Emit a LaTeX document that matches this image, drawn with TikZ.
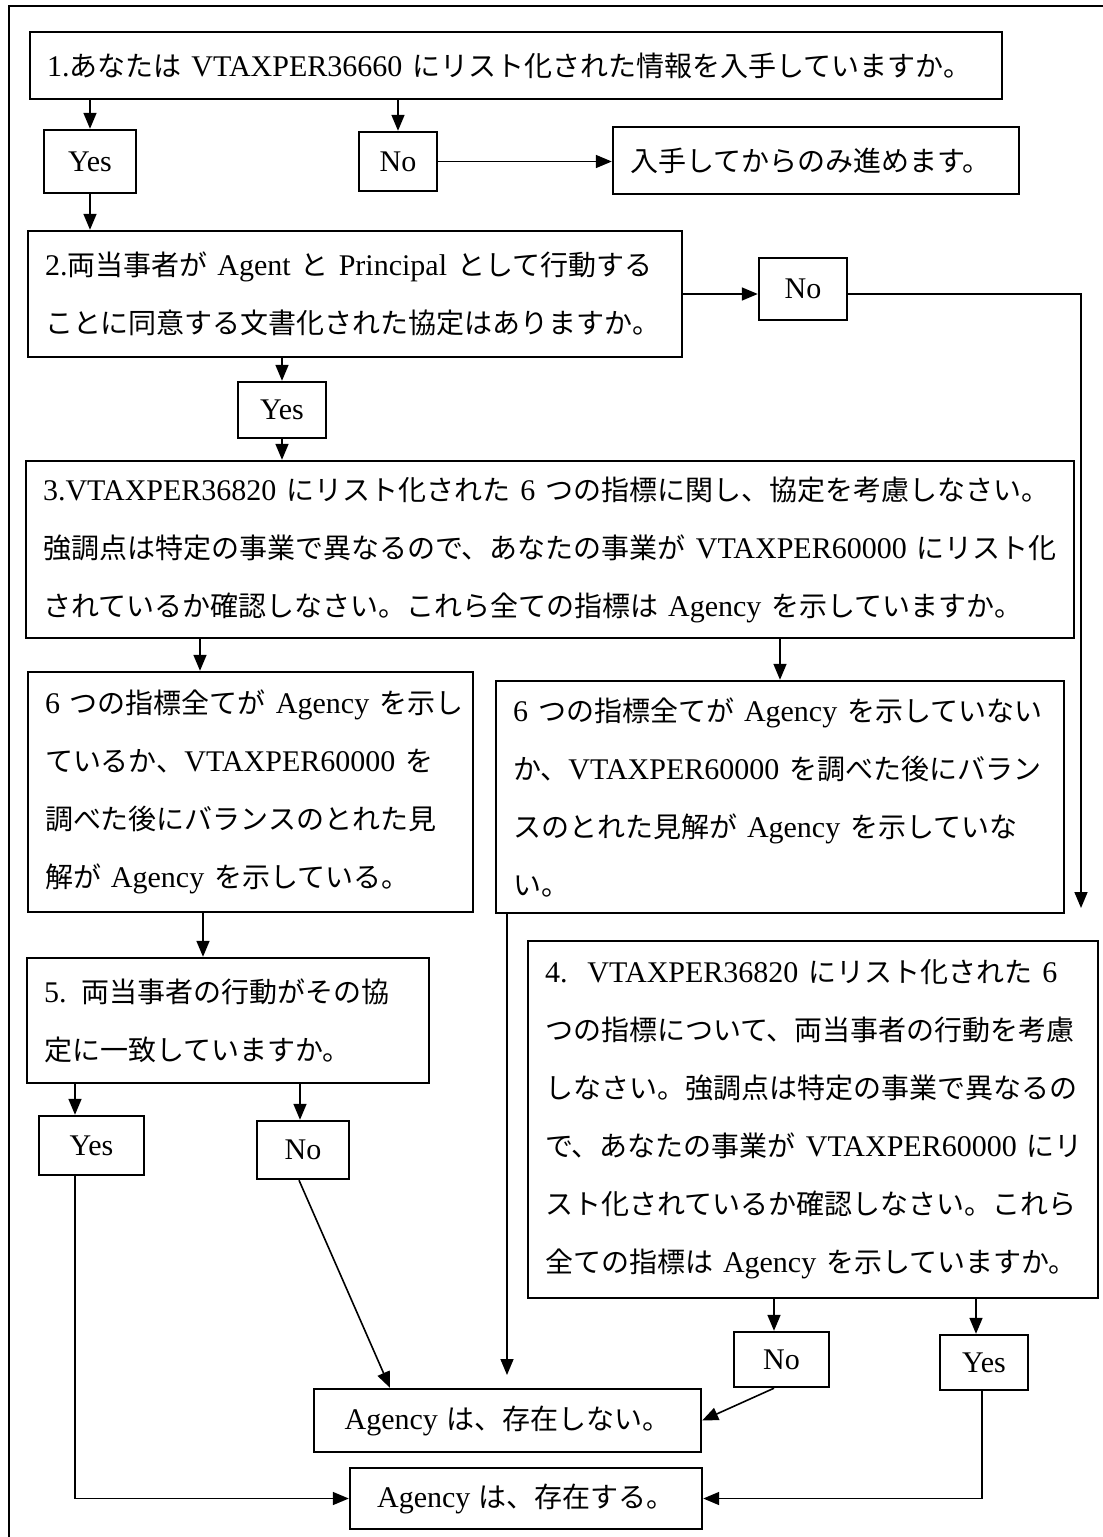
\documentclass[tikz,border=0pt]{standalone}
\usepackage{fontspec}
\setmainfont{Liberation Serif}
\newfontfamily\jpf{Noto Sans CJK JP}
\newcommand\jx[1]{{\jpf\fontsize{28}{58}\selectfont #1}}
\newcommand\bodyfnt{\fontsize{30}{58}\selectfont\spaceskip=8.5pt\relax}
\newcommand\smallfnt{\fontsize{30}{34}\selectfont\spaceskip=8.5pt\relax}
\usetikzlibrary{arrows.meta}
\tikzset{
 box/.style={draw, line width=2.4pt, inner xsep=17pt, inner ysep=0pt, font=\bodyfnt, align=left},
 ctr/.style={draw, line width=2.4pt, inner sep=0pt, font=\smallfnt, align=center},
 arr/.style={line width=1.6pt, -{Triangle[length=16pt,width=13pt]}},
 frame/.style={line width=2.4pt}
}
\begin{document}
\begin{tikzpicture}[x=1pt,y=-1pt]
\useasboundingbox (0,0) rectangle (1103,1537);
\draw[frame] (1103,6) -- (9,6) -- (9,1537);

\node[box, text width=938pt, minimum height=67pt] (B1) at (516,65.5)
 {1.\jx{あなたは} VTAXPER36660 \jx{にリスト化された情報を入手していますか。}};
\node[ctr, minimum width=92pt, minimum height=63pt] (Y1) at (90,161.5) {Yes};
\node[ctr, minimum width=78pt, minimum height=59pt] (N1) at (398,161.5) {No};
\node[box, text width=372pt, minimum height=67pt] (G) at (816,160.5)
 {\jx{入手してからのみ進めます。}};

\node[box, text width=620pt, minimum height=126pt] (B2) at (355,294)
 {\mbox{2.\jx{両当事者が} Agent \jx{と} Principal \jx{として行動する}}\\
  \mbox{\jx{ことに同意する文書化された協定はありますか。}}};
\node[ctr, minimum width=88pt, minimum height=62pt] (N2) at (803,289) {No};
\node[ctr, minimum width=88pt, minimum height=56pt] (Y2) at (282,410) {Yes};

\node[box, text width=1014pt, minimum height=177pt] (B3) at (550,549.5)
 {\mbox{3.VTAXPER36820 \jx{にリスト化された} 6 \jx{つの指標に関し、協定を考慮しなさい。}}\\
  \mbox{\jx{強調点は特定の事業で異なるので、あなたの事業が} VTAXPER60000 \jx{にリスト化}}\\
  \mbox{\jx{されているか確認しなさい。これら全ての指標は} Agency \jx{を示していますか。}}};

\node[box, text width=411pt, minimum height=240pt] (L4) at (250.5,792)
 {\mbox{6 \jx{つの指標全てが} Agency \jx{を示し}}\\
  \mbox{\jx{ているか、}VTAXPER60000 \jx{を}}\\
  \mbox{\jx{調べた後にバランスのとれた見}}\\
  \mbox{\jx{解が} Agency \jx{を示している。}}};

\node[box, text width=534pt, minimum height=232pt] (R4) at (780,797)
 {\mbox{6 \jx{つの指標全てが} Agency \jx{を示していない}}\\
  \mbox{\jx{か、}VTAXPER60000 \jx{を調べた後にバラン}}\\
  \mbox{\jx{スのとれた見解が} Agency \jx{を示していな}}\\
  \mbox{\jx{い。}}};

\node[box, text width=368pt, minimum height=125pt] (B5) at (228,1020.5)
 {\mbox{5. \jx{両当事者の行動がその協}}\\
  \mbox{\jx{定に一致していますか。}}};

\node[box, text width=536pt, minimum height=357pt] (Q4) at (813,1119.5)
 {\mbox{4.\ \ VTAXPER36820 \jx{にリスト化された} 6}\\
  \mbox{\jx{つの指標について、両当事者の行動を考慮}}\\
  \mbox{\jx{しなさい。強調点は特定の事業で異なるの}}\\
  \mbox{\jx{で、あなたの事業が} VTAXPER60000 \jx{にリ}}\\
  \mbox{\jx{スト化されているか確認しなさい。これら}}\\
  \mbox{\jx{全ての指標は} Agency \jx{を示していますか。}}};

\node[ctr, minimum width=105pt, minimum height=59pt] (Y5) at (91.5,1145.5) {Yes};
\node[ctr, minimum width=92pt, minimum height=58pt] (N5) at (303,1150) {No};
\node[ctr, minimum width=95pt, minimum height=55pt] (N6) at (781.5,1359.5) {No};
\node[ctr, minimum width=88pt, minimum height=55pt] (Y6) at (984,1362.5) {Yes};
\node[ctr, minimum width=387pt, minimum height=63pt] (NE) at (507.5,1420.5) {Agency \jx{は、存在しない。}};
\node[ctr, minimum width=352pt, minimum height=61pt] (EX) at (526,1498.5) {Agency \jx{は、存在する。}};

\coordinate (t4) at (1081,908);
\coordinate (t5) at (507,1375);

\draw[arr] (Y1.north |- B1.south) -- (Y1.north);
\draw[arr] (N1.north |- B1.south) -- (N1.north);
\draw[arr] (N1.east) -- (N1.east -| G.west);
\draw[arr] (Y1.south) -- (Y1.south |- B2.north);
\draw[arr] (B2.east) -- (B2.east -| N2.west);
\draw[arr] (B2.east -| N2.east) -| (t4);
\draw[arr] (Y2.north |- B2.south) -- (Y2.north);
\draw[arr] (Y2.south) -- (Y2.south |- B3.north);
\draw[arr] (200,0 |- B3.south) -- (200,0 |- L4.north);
\draw[arr] (R4.north |- B3.south) -- (R4.north);
\draw[arr] (203,0 |- L4.south) -- (203,0 |- B5.north);
\draw[arr] (75,0 |- B5.south) -- (75,0 |- Y5.north);
\draw[arr] (300,0 |- B5.south) -- (300,0 |- N5.north);
\draw[arr] (75,0 |- Y5.south) |- (EX.west);
\draw[arr] (299,0 |- N5.south) -- (390,0 |- NE.north);
\draw[arr] (507,0 |- R4.south) -- (t5);
\draw[arr] (774,0 |- Q4.south) -- (774,0 |- N6.north);
\draw[arr] (976,0 |- Q4.south) -- (976,0 |- Y6.north);
\draw[arr] (774,0 |- N6.south) -- (NE.east);
\draw[arr] (982,0 |- Y6.south) |- (EX.east);
\end{tikzpicture}
\end{document}
